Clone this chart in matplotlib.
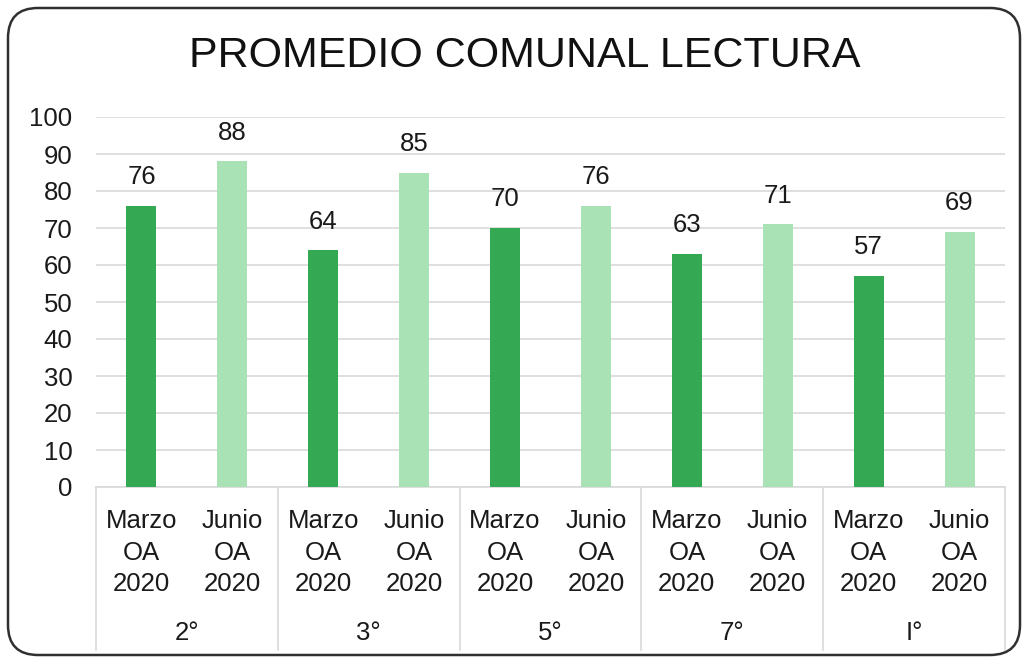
import matplotlib.pyplot as plt
import matplotlib.transforms as mtransforms
from matplotlib.patches import FancyBboxPatch
import numpy as np

plt.rcParams['font.family'] = ['Liberation Sans', 'DejaVu Sans']

grades = ["2°", "3°", "5°", "7°", "I°"]
periods = ["Marzo\nOA\n2020", "Junio\nOA\n2020"]
marzo = [76, 64, 70, 63, 57]
junio = [88, 85, 76, 71, 69]

dark = "#34A853"
light = "#A8E2B5"
grid_col = "#D9D9D9"
txt = "#1a1a1a"
fs = 18.5

fig = plt.figure(figsize=(10.27, 6.61), dpi=100)
ax = fig.add_axes([96 / 1027, 1 - 487 / 661, (1005 - 96) / 1027, 370 / 661])

# rounded frame around the whole chart
frame = FancyBboxPatch((0.08, 0.06), 10.12, 6.47, boxstyle="round,pad=0,rounding_size=0.3",
                       transform=fig.dpi_scale_trans, fill=False, edgecolor="#303030",
                       linewidth=1.8, zorder=0)
fig.patches.append(frame)

n = len(grades)
xm = np.arange(n) * 2
xj = xm + 1
w = 0.33
ax.bar(xm, marzo, width=w, color=dark, zorder=3)
ax.bar(xj, junio, width=w, color=light, zorder=3)

for x, v in list(zip(xm, marzo)) + list(zip(xj, junio)):
    ax.annotate(str(v), (x, v), xytext=(0, 12), textcoords="offset points",
                ha="center", va="bottom", fontsize=fs, color=txt)

ax.set_xlim(-0.5, 2 * n - 0.5)
ax.set_ylim(0, 100)
ax.set_yticks(range(0, 101, 10))
ax.tick_params(axis="y", length=0, pad=17, labelsize=fs, labelcolor=txt)
ax.yaxis.grid(True, color=grid_col, linewidth=1.2, zorder=0)
ax.set_axisbelow(True)

xt = np.sort(np.concatenate([xm, xj]))
ax.set_xticks(xt)
ax.set_xticklabels(periods * n, fontsize=fs, color=txt, linespacing=1.4)
ax.tick_params(axis="x", length=0, pad=16)

for s in ["top", "right", "left"]:
    ax.spines[s].set_visible(False)
ax.spines["bottom"].set_color(grid_col)
ax.spines["bottom"].set_linewidth(1.2)

# second level of the category axis
trans = mtransforms.blended_transform_factory(ax.transData, ax.transAxes)
for i, g in enumerate(grades):
    ax.text(2 * i + 0.5, -0.395, g, transform=trans, ha="center", va="center",
            fontsize=fs, color=txt)
for b in np.arange(n + 1) * 2 - 0.5:
    ax.plot([b, b], [0, -0.44], transform=trans, color=grid_col, linewidth=1.2,
            clip_on=False)

fig.text(525 / 1027, 1 - 56 / 661, "PROMEDIO COMUNAL LECTURA", ha="center", va="center",
         fontsize=31, color="#111111")

fig.savefig("out.png", dpi=100)
